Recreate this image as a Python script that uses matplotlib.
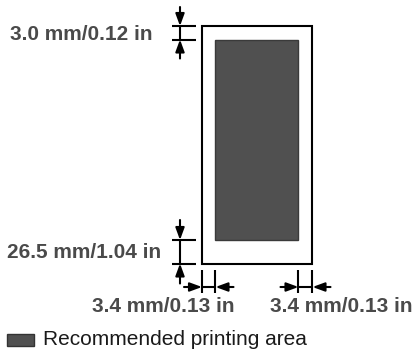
import matplotlib
matplotlib.use("Agg")
import matplotlib.pyplot as plt
from matplotlib.patches import Rectangle

# --- data ---
margin_mm = [3.0, 26.5, 3.4, 3.4]          # top, bottom, left, right
margin_in = [0.12, 1.04, 0.13, 0.13]
labels = [f"{m:.1f} mm/{i:.2f} in" for m, i in zip(margin_mm, margin_in)]
legend_label = "Recommended printing area"

# --- layout (pixel canvas) ---
W, H = 414, 352
paper = dict(left=202, top=26, right=312.5, bottom=263.5)
inner = dict(left=215.5, top=39.5, right=298.5, bottom=240)

TEXT = "#4a4a4a"
FILL = "#505050"
LW = 1.5

fig = plt.figure(figsize=(W / 100, H / 100), dpi=100)
ax = fig.add_axes([0, 0, 1, 1])
ax.set_xlim(0, W)
ax.set_ylim(H, 0)
ax.axis("off")

# paper
ax.add_patch(Rectangle((paper["left"], paper["top"]), paper["right"] - paper["left"],
                       paper["bottom"] - paper["top"], fill=False, ec="black", lw=LW))
# printable area
ax.add_patch(Rectangle((inner["left"], inner["top"]), inner["right"] - inner["left"],
                       inner["bottom"] - inner["top"], fc=FILL, ec="#3a3a3a", lw=1.0))


def arrow(tail, tip):
    ax.annotate("", xy=tip, xytext=tail,
                arrowprops=dict(arrowstyle="-|>,head_length=0.6,head_width=0.22",
                                lw=LW, color="black", shrinkA=0, shrinkB=0,
                                mutation_scale=12))


def vdim(y1, y2, x=180, x0=172.5, x1=196.5, ext=18):
    ax.plot([x0, x1], [y1, y1], color="black", lw=LW, solid_capstyle="butt")
    ax.plot([x0, x1], [y2, y2], color="black", lw=LW, solid_capstyle="butt")
    ax.plot([x, x], [y1, y2], color="black", lw=LW)
    arrow((x, y1 - ext), (x, y1))
    arrow((x, y2 + ext), (x, y2))


def hdim(x1, x2, y=287, y0=270, y1=293, ext=18):
    ax.plot([x1, x1], [y0, y1], color="black", lw=LW, solid_capstyle="butt")
    ax.plot([x2, x2], [y0, y1], color="black", lw=LW, solid_capstyle="butt")
    ax.plot([x1, x2], [y, y], color="black", lw=LW)
    arrow((x1 - ext, y), (x1, y))
    arrow((x2 + ext, y), (x2, y))


# top margin
vdim(paper["top"], inner["top"], ext=19)
# bottom margin
vdim(inner["bottom"], paper["bottom"], ext=20)
# left / right margins
hdim(paper["left"], inner["left"])
hdim(inner["right"], paper["right"])

fkw = dict(family=["Liberation Sans", "DejaVu Sans"], fontsize=15)
ax.text(10, 40, labels[0], fontweight="bold", va="baseline", ha="left", color=TEXT, **fkw)
ax.text(7, 258, labels[1], fontweight="bold", va="baseline", ha="left", color=TEXT, **fkw)
ax.text(92, 312, labels[2], fontweight="bold", va="baseline", ha="left", color=TEXT, **fkw)
ax.text(270, 312, labels[3], fontweight="bold", va="baseline", ha="left", color=TEXT, **fkw)

# legend
ax.add_patch(Rectangle((7.5, 333.5), 27, 12, fc=FILL, ec="#333333", lw=1.0))
ax.text(43, 345, legend_label, va="baseline", ha="left", color="#1a1a1a", **fkw)

fig.savefig("out.png", dpi=100)
